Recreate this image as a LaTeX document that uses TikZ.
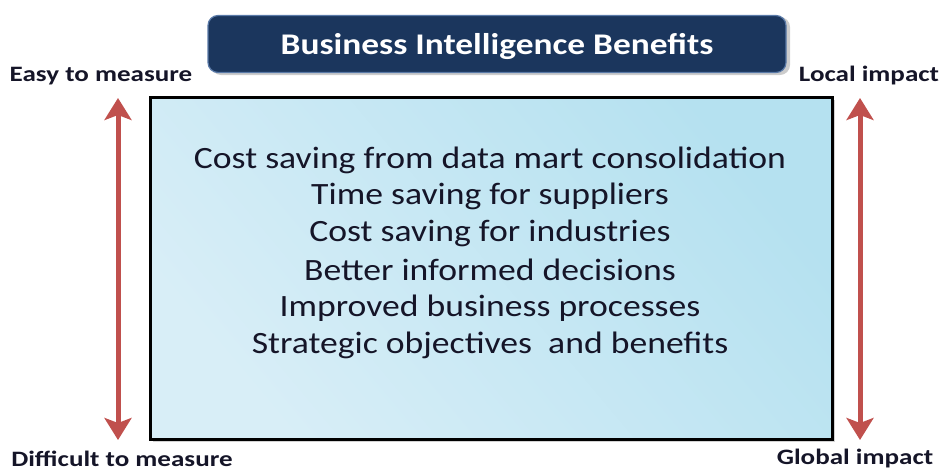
\documentclass[tikz,border=0pt]{standalone}
\usepackage{fontspec}
\setmainfont{Carlito}
\newfontfamily\bodyfont[FakeStretch=1.15]{Carlito}
\newfontfamily\titlefont[FakeStretch=1.18]{Carlito}
\newfontfamily\sidefont[FakeStretch=1.23]{Carlito}
\usetikzlibrary{arrows.meta}
\definecolor{navy}{HTML}{1B365D}
\definecolor{navyedge}{HTML}{5A7AA8}
\definecolor{arrowred}{HTML}{C0504D}
\definecolor{boxdark}{HTML}{B5E1F0}
\definecolor{boxlight}{HTML}{D8EEF7}
\definecolor{txt}{HTML}{151528}
\tikzset{
  sidelabel/.style={font=\sidefont\bfseries\fontsize{22}{26}\selectfont, text=txt, inner sep=0pt},
  bodyline/.style={font=\bodyfont\fontsize{31}{36}\selectfont, text=txt, inner sep=0pt},
  redarrow/.style={draw=arrowred, line width=5pt, {Stealth[length=22pt,width=27pt,inset=5pt]}-{Stealth[length=22pt,width=27pt,inset=5pt]}},
}
\begin{document}
\begin{tikzpicture}[x=1pt,y=-1pt]
\useasboundingbox (0,0) rectangle (944,472);
% main box
\fill[black!35, opacity=0.5] (153,100) rectangle (835,442);
\draw[line width=3pt, top color=boxdark, bottom color=boxlight, shading angle=-50] (150,97) rectangle (832,439);
\node[draw=none, minimum width=682pt, minimum height=342pt, inner sep=0pt] (box) at (491,268) {};
% title
\fill[black!40, opacity=0.5, rounded corners=10pt] (211,17) rectangle (790,75);
\node[draw=navyedge, line width=1.2pt, fill=navy, rounded corners=10pt, minimum width=578pt, minimum height=57pt, inner sep=0pt,
      text=white, text depth=0pt, font=\titlefont\bfseries\fontsize{30}{34}\selectfont] (title) at (497,44) {Business Intelligence Benefits};
% body
\node[bodyline] (l1) at (490,160) {Cost saving from data mart consolidation};
\node[bodyline] (l2) at (490,196) {Time saving for suppliers};
\node[bodyline] (l3) at (490,233) {Cost saving for industries};
\node[bodyline] (l4) at (490,270) {Better informed decisions};
\node[bodyline] (l5) at (490,308) {Improved business processes};
\node[bodyline] (l6) at (490,345) {Strategic objectives~ and benefits};
% side labels
\node[sidelabel] (easy) at (101,76) {Easy to measure};
\node[sidelabel] (diff) at (122,459) {Difficult to measure};
\node[sidelabel] (local) at (869,76) {Local impact};
\node[sidelabel] (global) at (855,459) {Global impact};
% arrows
\coordinate (la) at (118,98);
\coordinate (lb) at (118,440);
\coordinate (ra) at (860,98);
\coordinate (rb) at (860,440);
\draw[redarrow] (la) -- (lb);
\draw[redarrow] (ra) -- (rb);
\end{tikzpicture}
\end{document}
